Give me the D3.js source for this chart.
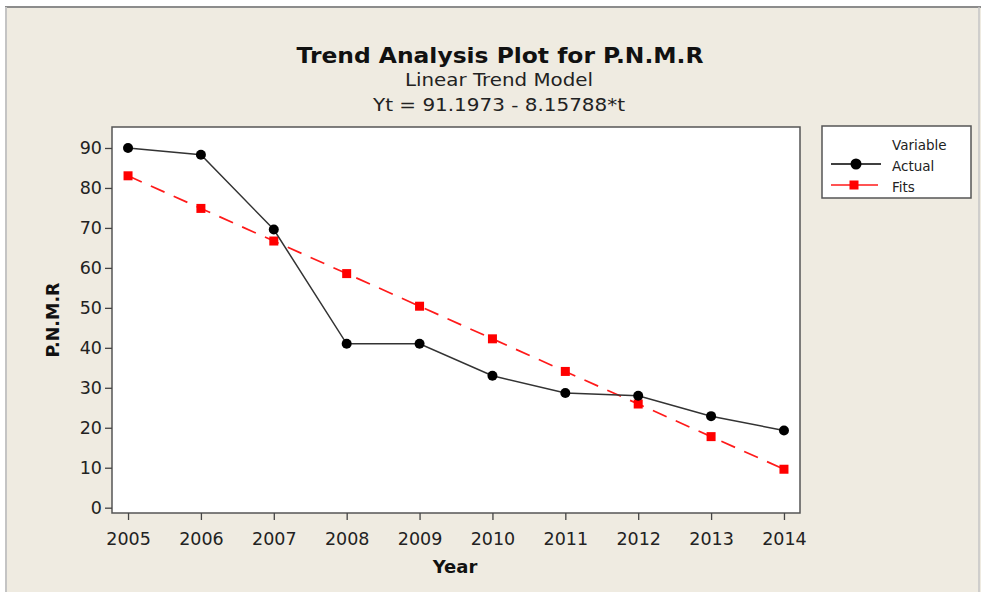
<!DOCTYPE html>
<html><head><meta charset="utf-8">
<script src="https://cdn.jsdelivr.net/npm/d3@7"></script>
<style>body{margin:0;background:#fff}svg{display:block}</style>
</head><body>
<svg id="c" width="981" height="592"></svg>
<script>
const years = [2005,2006,2007,2008,2009,2010,2011,2012,2013,2014];
const actual = [90.0,88.3,69.6,41.0,41.0,33.0,28.7,28.0,22.9,19.3];
const fits = [83.04,74.88,66.72,58.57,50.41,42.25,34.09,25.94,17.78,9.62];
const yTicks = [0,10,20,30,40,50,60,70,80,90];
const titleText = "Trend Analysis Plot for P.N.M.R";
const subText = "Linear Trend Model";
const eqText = "Yt = 91.1973 - 8.15788*t";
const seriesNames = ["Actual","Fits"];

const svg = d3.select("#c");
const F = "DejaVu Sans, Verdana, sans-serif";
// background frame
svg.append("rect").attr("x",6).attr("y",7).attr("width",975).attr("height",585).attr("fill","#efebe1");
svg.append("line").attr("x1",5).attr("x2",981).attr("y1",7).attr("y2",7).attr("stroke","#8c8c8c").attr("stroke-width",2);
svg.append("line").attr("x1",6).attr("x2",6).attr("y1",7).attr("y2",592).attr("stroke","#c4c4c4").attr("stroke-width",2);
svg.append("line").attr("x1",979).attr("x2",979).attr("y1",7).attr("y2",592).attr("stroke","#c4c4c4").attr("stroke-width",1.5);

const L=112, R=800, T=127, B=513;
const x = d3.scaleLinear().domain([2004.78,2014.22]).range([L,R]);
const y = d3.scaleLinear().domain([-1.33,95.25]).range([B,T]);

svg.append("rect").attr("x",L).attr("y",T).attr("width",R-L).attr("height",B-T).attr("fill","#fff").attr("stroke","#555").attr("stroke-width",1.5);

const xa = svg.append("g").attr("transform",`translate(0,${B})`)
  .call(d3.axisBottom(x).tickValues(years).tickFormat(d3.format("d")).tickSize(7).tickSizeOuter(0).tickPadding(13));
const ya = svg.append("g").attr("transform",`translate(${L},0)`)
  .call(d3.axisLeft(y).tickValues(yTicks).tickSize(7).tickSizeOuter(0).tickPadding(3));
[xa,ya].forEach(g=>{
  g.select(".domain").remove();
  g.selectAll(".tick line").attr("stroke","#444").attr("stroke-width",1.3);
  g.selectAll(".tick text").attr("font-family",F).attr("font-size",17.5).attr("fill","#222");
});

// Fits
svg.append("path").datum(years.map((d,i)=>[d,fits[i]]))
  .attr("d",d3.line().x(d=>x(d[0])).y(d=>y(d[1])))
  .attr("fill","none").attr("stroke","#ff1a1a").attr("stroke-width",1.7).attr("stroke-dasharray","15,10");
svg.selectAll(".sq").data(years.map((d,i)=>[d,fits[i]])).join("rect")
  .attr("x",d=>x(d[0])-4.5).attr("y",d=>y(d[1])-4.5).attr("width",9).attr("height",9).attr("fill","#ff0000");
// Actual
svg.append("path").datum(years.map((d,i)=>[d,actual[i]]))
  .attr("d",d3.line().x(d=>x(d[0])).y(d=>y(d[1])))
  .attr("fill","none").attr("stroke","#333").attr("stroke-width",1.5);
svg.selectAll(".pt").data(years.map((d,i)=>[d,actual[i]])).join("circle")
  .attr("cx",d=>x(d[0])).attr("cy",d=>y(d[1])).attr("r",5).attr("fill","#000");

// Titles
svg.append("text").attr("x",500).attr("y",63).attr("text-anchor","middle").attr("font-family",F)
  .attr("font-weight","bold").attr("font-size",22).attr("fill","#111").attr("textLength",407).attr("lengthAdjust","spacingAndGlyphs").text(titleText);
svg.append("text").attr("x",499).attr("y",86).attr("text-anchor","middle").attr("font-family",F)
  .attr("font-size",17).attr("fill","#222").attr("textLength",188).attr("lengthAdjust","spacingAndGlyphs").text(subText);
svg.append("text").attr("x",499).attr("y",111).attr("text-anchor","middle").attr("font-family",F)
  .attr("font-size",17).attr("fill","#222").attr("textLength",252).attr("lengthAdjust","spacingAndGlyphs").text(eqText);
svg.append("text").attr("x",455).attr("y",573).attr("text-anchor","middle").attr("font-family",F)
  .attr("font-weight","bold").attr("font-size",18).attr("fill","#111").text("Year");
svg.append("text").attr("transform","translate(59,320) rotate(-90)").attr("text-anchor","middle").attr("font-family",F)
  .attr("font-weight","bold").attr("font-size",17).attr("fill","#111").attr("textLength",75).attr("lengthAdjust","spacingAndGlyphs").text("P.N.M.R");

// Legend
const lg = svg.append("g");
lg.append("rect").attr("x",822).attr("y",126).attr("width",149).attr("height",72).attr("fill","#fff").attr("stroke","#555").attr("stroke-width",1.5);
lg.append("text").attr("x",892).attr("y",150).attr("font-family",F).attr("font-size",13.5).attr("fill","#222").text("Variable");
lg.append("line").attr("x1",831).attr("x2",881).attr("y1",164).attr("y2",164).attr("stroke","#000").attr("stroke-width",1.5);
lg.append("circle").attr("cx",856).attr("cy",164).attr("r",5.5).attr("fill","#000");
lg.append("text").attr("x",892).attr("y",171).attr("font-family",F).attr("font-size",13.5).attr("fill","#222").text(seriesNames[0]);
lg.append("line").attr("x1",831).attr("x2",878).attr("y1",185).attr("y2",185).attr("stroke","#ff1a1a").attr("stroke-width",1.5);
lg.append("rect").attr("x",849.5).attr("y",180.5).attr("width",9).attr("height",9).attr("fill","#ff0000");
lg.append("text").attr("x",892).attr("y",192).attr("font-family",F).attr("font-size",13.5).attr("fill","#222").text(seriesNames[1]);
</script>
</body></html>
